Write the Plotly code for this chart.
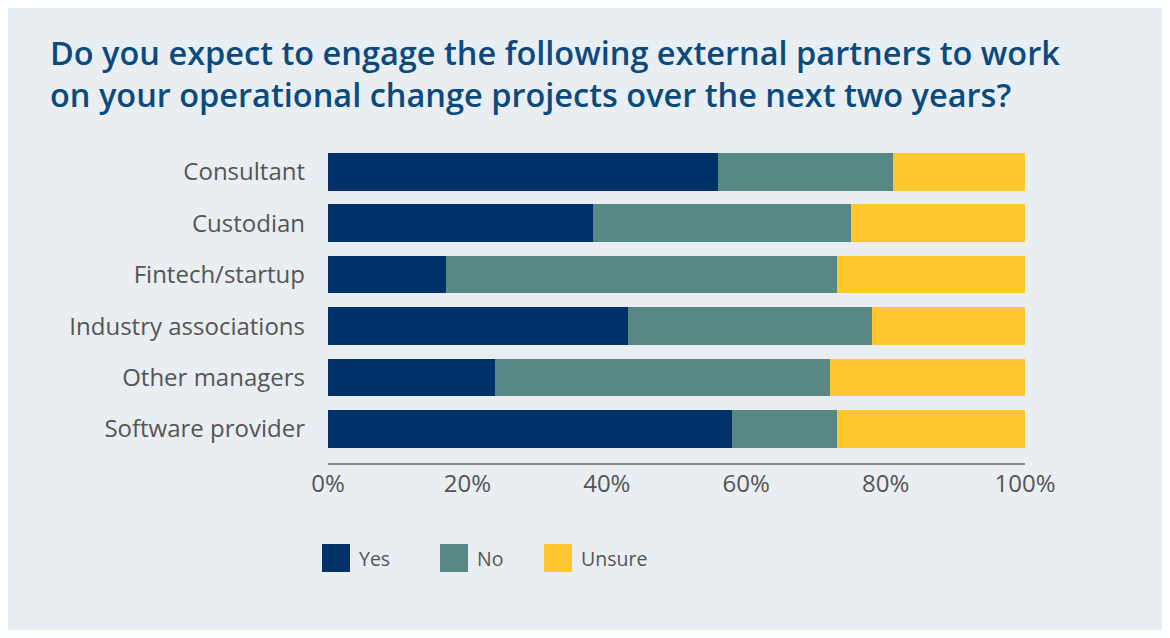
import plotly.graph_objects as go

categories = ["Consultant", "Custodian", "Fintech/startup", "Industry associations",
              "Other managers", "Software provider"]
yes = [56, 38, 17, 43, 24, 58]
no = [25, 37, 56, 35, 48, 15]
unsure = [19, 25, 27, 22, 28, 27]
series_names = ["Yes", "No", "Unsure"]
series_colors = ["#003168", "#578884", "#FFC72E"]
tick_vals = [0, 20, 40, 60, 80, 100]
tick_text = ["0%", "20%", "40%", "60%", "80%", "100%"]
title_text = ("Do you expect to engage the following external partners to work<br>"
              "on your operational change projects over the next two years?")

OFF = 8  # page body margin
W, H = 1170 - 2 * OFF, 638 - 2 * OFF
L, T = 328 - OFF, 146 - OFF
R = W - (1025 - OFF)
B = H - (463 - OFF)
FONT = "Open Sans"
GREY = "#555555"
BG = "#E9EEF2"
pw, ph = W - L - R, H - T - B


def px(x):
    return (x - OFF - L) / pw


def py(y):
    return (H - B - (y - OFF)) / ph


fig = go.Figure()
for name, vals, col in zip(series_names, [yes, no, unsure], series_colors):
    fig.add_trace(go.Bar(y=categories, x=vals, name=name, orientation="h",
                         marker=dict(color=col, line=dict(width=0)),
                         showlegend=False))

# title
fig.add_annotation(xref="paper", yref="paper", x=px(48), y=py(73),
                   text=title_text, showarrow=False, xanchor="left", yanchor="middle",
                   align="left",
                   font=dict(family=FONT, size=32.5, color="#0B4A7D", weight=600))

# custom legend
lx = [322, 440, 544]
for name, col, x in zip(series_names, series_colors, lx):
    fig.add_shape(type="rect", xref="paper", yref="paper",
                  x0=px(x), x1=px(x + 28), y0=py(572), y1=py(544),
                  fillcolor=col, line=dict(width=0))
    fig.add_annotation(xref="paper", yref="paper", x=px(x + 35), y=py(558),
                       text=name, showarrow=False, xanchor="left", yanchor="middle",
                       font=dict(family=FONT, size=19.5, color=GREY))

fig.update_layout(
    width=W, height=H,
    barmode="stack", bargap=0.27,
    paper_bgcolor=BG, plot_bgcolor=BG,
    margin=dict(l=L, r=R, t=T, b=B),
    xaxis=dict(range=[0, 100], tickvals=tick_vals, ticktext=tick_text,
               showgrid=False, zeroline=False, showline=True,
               linecolor="#8a8a8a", linewidth=1.5,
               tickfont=dict(family=FONT, size=24, color=GREY), ticks="",
               ticklabelstandoff=-2, fixedrange=True),
    yaxis=dict(categoryorder="array", categoryarray=categories,
               range=[5.66, -0.5], showgrid=False, zeroline=False,
               showline=False, ticks="", ticklabelstandoff=22,
               tickfont=dict(family=FONT, size=24, color=GREY), fixedrange=True),
    font=dict(family=FONT),
)

fig.write_html("out.html")
